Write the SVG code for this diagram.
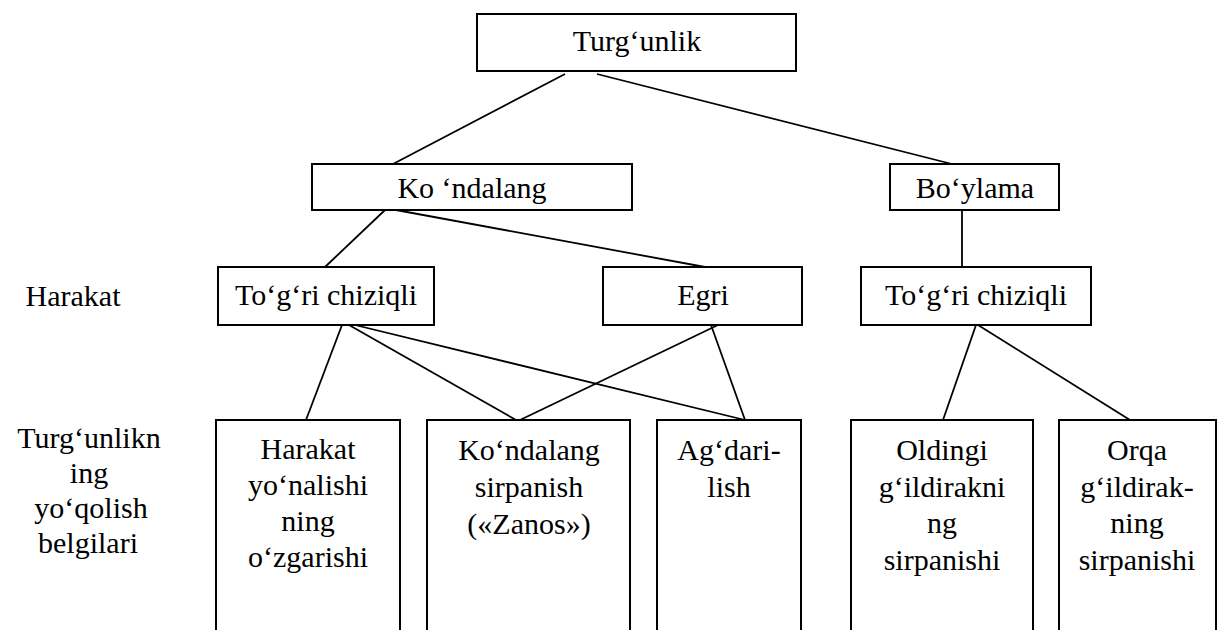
<svg xmlns="http://www.w3.org/2000/svg" width="1226" height="630" viewBox="0 0 1226 630">
<style>
.box{fill:#fff;stroke:#000;stroke-width:2}
.ln{stroke:#000;stroke-width:1.8;fill:none}
.t{font-family:"Liberation Serif","Times New Roman","DejaVu Serif",serif;font-size:30px;fill:#000;text-anchor:middle}
</style>
<rect width="1226" height="630" fill="#fff"/>
<g id="connectors">
<line class="ln" x1="565" y1="74" x2="393" y2="164"/>
<line class="ln" x1="597" y1="74" x2="952" y2="164"/>
<line class="ln" x1="385" y1="210" x2="325" y2="267"/>
<line class="ln" x1="396" y1="210" x2="705" y2="267"/>
<line class="ln" x1="962" y1="210" x2="962" y2="267"/>
<line class="ln" x1="342" y1="325" x2="306" y2="420"/>
<line class="ln" x1="349" y1="325" x2="516" y2="420"/>
<line class="ln" x1="355" y1="325" x2="745" y2="420"/>
<line class="ln" x1="718" y1="325" x2="520" y2="420"/>
<line class="ln" x1="711" y1="325" x2="745" y2="420"/>
<line class="ln" x1="976" y1="325" x2="943" y2="420"/>
<line class="ln" x1="978" y1="325" x2="1130" y2="420"/>
</g>
<g id="n-top"><rect class="box" x="477" y="14" width="319" height="57"/><text class="t" x="637" y="51">Turg‘unlik</text></g>
<g id="n-kondalang"><rect class="box" x="312" y="164" width="320" height="46"/><text class="t" x="472" y="198">Ko ‘ndalang</text></g>
<g id="n-boylama"><rect class="box" x="890" y="164" width="169" height="46"/><text class="t" x="975" y="198">Bo‘ylama</text></g>
<g id="n-togri1"><rect class="box" x="218" y="267" width="216" height="58"/><text class="t" x="326" y="305">To‘g‘ri chiziqli</text></g>
<g id="n-egri"><rect class="box" x="603" y="267" width="199" height="58"/><text class="t" x="703" y="305">Egri</text></g>
<g id="n-togri2"><rect class="box" x="861" y="267" width="230" height="58"/><text class="t" x="976" y="305">To‘g‘ri chiziqli</text></g>
<g id="l-harakat"><text class="t" x="73" y="306">Harakat</text></g>
<g id="l-belgilar"><text class="t" x="89" y="448">Turg‘unlikn</text><text class="t" x="89" y="483">ing</text><text class="t" x="91" y="518">yo‘qolish</text><text class="t" x="88" y="553">belgilari</text></g>
<g id="n-b1"><rect class="box" x="216" y="420" width="184" height="260"/><text class="t" x="308" y="459">Harakat</text><text class="t" x="308" y="495">yo‘nalishi</text><text class="t" x="308" y="531">ning</text><text class="t" x="308" y="567">o‘zgarishi</text></g>
<g id="n-b2"><rect class="box" x="427" y="420" width="203" height="260"/><text class="t" x="529" y="460">Ko‘ndalang</text><text class="t" x="529" y="497">sirpanish</text><text class="t" x="529" y="534">(«Zanos»)</text></g>
<g id="n-b3"><rect class="box" x="657" y="420" width="144" height="260"/><text class="t" x="729" y="460">Ag‘dari-</text><text class="t" x="729" y="497">lish</text></g>
<g id="n-b4"><rect class="box" x="851" y="420" width="182" height="260"/><text class="t" x="942" y="460">Oldingi</text><text class="t" x="942" y="497">g‘ildirakni</text><text class="t" x="942" y="533">ng</text><text class="t" x="942" y="570">sirpanishi</text></g>
<g id="n-b5"><rect class="box" x="1059" y="420" width="157" height="260"/><text class="t" x="1137" y="460">Orqa</text><text class="t" x="1137" y="497">g‘ildirak-</text><text class="t" x="1137" y="533">ning</text><text class="t" x="1137" y="570">sirpanishi</text></g>
</svg>
